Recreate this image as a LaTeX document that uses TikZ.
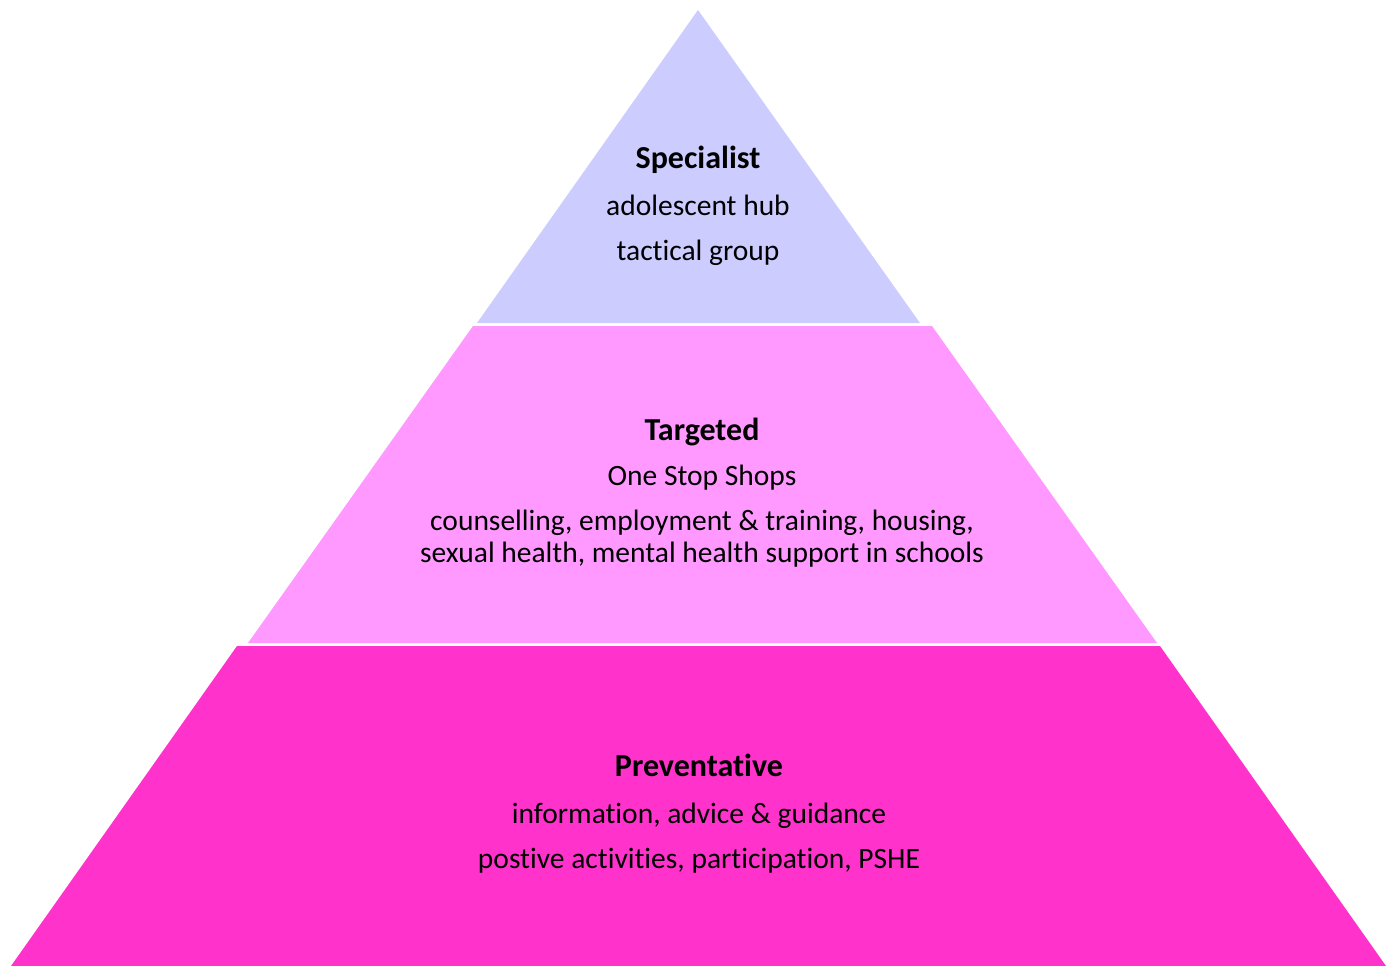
\documentclass[tikz,border=0pt]{standalone}
\usepackage{fontspec}
\setmainfont{Carlito}[Ligatures=NoCommon]
\definecolor{lspec}{HTML}{CCCCFF}
\definecolor{ltarg}{HTML}{FF99FF}
\definecolor{lprev}{HTML}{FF33CC}
\begin{document}
\begin{tikzpicture}[x=1pt,y=-1pt,
  layer/.style={draw=none},
  txt/.style={anchor=base,inner sep=0pt,font=\fontsize{29.5}{32}\selectfont},
  head/.style={txt,font=\fontsize{32}{36}\selectfont\bfseries}]
\useasboundingbox (0,0) rectangle (1392,966);
% layers
\fill[lspec] (698,10) -- (920,323) -- (477,323) -- cycle;
\fill[ltarg] (473,326) -- (932,326) -- (1157,643) -- (248,643) -- cycle;
\fill[lprev] (237,646) -- (1160,646) -- (1386,966) -- (11,966) -- cycle;
% texts
\node[head] (s1) at (698,168) {Specialist};
\node[txt] (s2) at (698,215) {adolescent hub};
\node[txt] (s3) at (698,260) {tactical group};
\node[head] (t1) at (702,440) {Targeted};
\node[txt] (t2) at (702,485) {One Stop Shops};
\node[txt] (t3) at (702,530) {counselling, employment \& training, housing,};
\node[txt] (t4) at (702,562) {sexual health, mental health support in schools};
\node[head] (p1) at (699,776) {Preventative};
\node[txt] (p2) at (699,823) {information, advice \& guidance};
\node[txt] (p3) at (699,868) {postive activities, participation, PSHE};
\end{tikzpicture}
\end{document}
